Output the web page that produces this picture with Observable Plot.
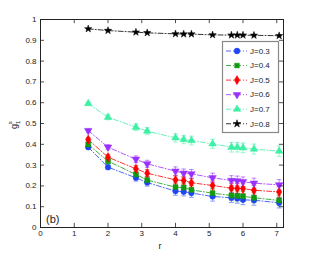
<!DOCTYPE html>
<html>
<head>
<meta charset="utf-8">
<script src="https://cdn.jsdelivr.net/npm/d3@7"></script>
<script src="https://cdn.jsdelivr.net/npm/@observablehq/plot@0.6"></script>
<style>
  body { margin: 0; background: #fff; }
  #chart { position: relative; width: 313px; height: 256px; }
</style>
</head>
<body>
<div id="chart"></div>
<script>
const rVals = [1.414, 2, 2.828, 3.162, 4, 4.243, 4.472, 5.099, 5.657, 5.831, 6, 6.325, 7.071];
const series = ["J=0.3", "J=0.4", "J=0.5", "J=0.6", "J=0.7", "J=0.8"];
const colors = ["#1f45f5", "#109a10", "#ff0000", "#9a30ff", "#3cf0a4", "#000000"];
const symbols = ["circle", "square", "diamond", "triangle", "triangle", "star"];
const rotations = [0, 0, 0, 180, 0, 0];

const g03 = [0.386, 0.290, 0.239, 0.216, 0.175, 0.172, 0.166, 0.149, 0.143, 0.140, 0.133, 0.131, 0.119];
const g04 = [0.399, 0.319, 0.255, 0.228, 0.194, 0.192, 0.181, 0.165, 0.154, 0.152, 0.150, 0.143, 0.130];
const g05 = [0.423, 0.338, 0.282, 0.261, 0.229, 0.226, 0.215, 0.202, 0.189, 0.188, 0.187, 0.179, 0.171];
const g06 = [0.466, 0.386, 0.328, 0.306, 0.271, 0.261, 0.258, 0.239, 0.226, 0.224, 0.220, 0.213, 0.205];
const g07 = [0.596, 0.530, 0.482, 0.463, 0.431, 0.423, 0.418, 0.402, 0.386, 0.386, 0.383, 0.377, 0.367];
const g08 = [0.955, 0.947, 0.939, 0.936, 0.931, 0.930, 0.930, 0.926, 0.925, 0.925, 0.925, 0.924, 0.922];
const errMain = [0.008, 0.012, 0.016, 0.017, 0.020, 0.020, 0.021, 0.022, 0.023, 0.023, 0.023, 0.024, 0.025];
const errJ08 = [0.003, 0.003, 0.003, 0.003, 0.003, 0.003, 0.003, 0.003, 0.003, 0.003, 0.003, 0.003, 0.003];

const xTicks = [0, 1, 2, 3, 4, 5, 6, 7];
const yTicks = [0, 0.1, 0.2, 0.3, 0.4, 0.5, 0.6, 0.7, 0.8, 0.9, 1];

const values = [g03, g04, g05, g06, g07, g08];
const errs = [errMain, errMain, errMain, errMain, errMain, errJ08];
const data = [];
series.forEach((s, i) => {
  rVals.forEach((r, k) => {
    data.push({J: s, r, g: values[i][k], e: errs[i][k], rot: rotations[i]});
  });
});
const dataMarkers = data.filter(d => d.J !== "J=0.8");
const dataStars = data.filter(d => d.J === "J=0.8");

const capHalf = 0.07;

const plot = Plot.plot({
  width: 313,
  height: 256,
  marginLeft: 40,
  marginRight: 30,
  marginTop: 19,
  marginBottom: 29,
  style: {fontFamily: "Liberation Sans, Arial, sans-serif", fontSize: "8px", background: "#fff", color: "#222"},
  x: {domain: [0, 7.2], label: null},
  y: {domain: [0, 1], label: null},
  color: {domain: series, range: colors},
  symbol: {domain: series, range: symbols},
  marks: [
    Plot.line(data, {x: "r", y: "g", z: "J", stroke: "J", strokeWidth: 0.8, strokeDasharray: "5,2,1,2"}),
    Plot.ruleX(data, {x: "r", y1: d => d.g - d.e, y2: d => d.g + d.e, stroke: "J", strokeOpacity: 0.55, strokeWidth: 1}),
    Plot.link(data, {x1: d => d.r - capHalf, x2: d => d.r + capHalf, y1: d => d.g + d.e, y2: d => d.g + d.e, stroke: "J", strokeOpacity: 0.55, strokeWidth: 1}),
    Plot.link(data, {x1: d => d.r - capHalf, x2: d => d.r + capHalf, y1: d => d.g - d.e, y2: d => d.g - d.e, stroke: "J", strokeOpacity: 0.55, strokeWidth: 1}),
    Plot.dot(dataMarkers, {x: "r", y: "g", fill: "J", stroke: "J", symbol: "J", r: 2.8, rotate: "rot", strokeWidth: 0.5}),
    Plot.dot(dataStars, {x: "r", y: "g", fill: "J", stroke: "J", symbol: "J", r: 2.3, strokeWidth: 0.5}),
    // inward ticks on all four sides
    Plot.ruleX(xTicks, {x: d => d, y1: 0, y2: 0.02, stroke: "#222", strokeWidth: 0.8}),
    Plot.ruleX(xTicks, {x: d => d, y1: 1, y2: 0.98, stroke: "#222", strokeWidth: 0.8}),
    Plot.ruleY(yTicks, {y: d => d, x1: 0, x2: 0.12, stroke: "#222", strokeWidth: 0.8}),
    Plot.ruleY(yTicks, {y: d => d, x1: 7.2, x2: 7.08, stroke: "#222", strokeWidth: 0.8}),
    Plot.frame({stroke: "#222", strokeWidth: 1}),
    Plot.axisX({ticks: xTicks, tickSize: 0, tickPadding: 3, label: null}),
    Plot.axisY({ticks: yTicks, tickSize: 0, tickPadding: 4, label: null, tickFormat: d => String(+d.toFixed(1))})
  ]
});

document.getElementById("chart").appendChild(plot);

const svg = d3.select(plot);

// axis titles
svg.append("text").attr("x", 160).attr("y", 249).attr("text-anchor", "middle")
  .style("font-size", "9px").text("r");
const yl = svg.append("text").attr("transform", "translate(17,123) rotate(-90)")
  .attr("text-anchor", "start").style("font-size", "9px");
yl.append("tspan").attr("x", -6).text("g");
yl.append("tspan").attr("dy", 2.5).style("font-size", "6px").text("1");
yl.append("tspan").attr("dx", -3.5).attr("dy", -7.5).style("font-size", "6px").text("s");

// panel label
svg.append("text").attr("x", 46).attr("y", 223).attr("text-anchor", "start")
  .style("font-size", "11px").text("(b)");

// legend
const lg = svg.append("g");
lg.append("rect").attr("x", 222.5).attr("y", 41.5).attr("width", 56).attr("height", 91)
  .attr("fill", "#fff").attr("stroke", "#888").attr("stroke-width", 1.2);
const symMap = {circle: d3.symbolCircle, square: d3.symbolSquare, diamond: d3.symbolDiamond, triangle: d3.symbolTriangle, star: d3.symbolStar};
const symSize = [26, 22, 24, 24, 24, 18];
series.forEach((s, i) => {
  const y = 51 + i * 14.55;
  lg.append("line").attr("x1", 226).attr("x2", 247).attr("y1", y).attr("y2", y)
    .attr("stroke", colors[i]).attr("stroke-width", 0.8).attr("stroke-dasharray", "5,2,1,2");
  lg.append("path").attr("d", d3.symbol(symMap[symbols[i]], symSize[i])())
    .attr("transform", `translate(237,${y}) rotate(${rotations[i]})`)
    .attr("fill", colors[i]).attr("stroke", colors[i]).attr("stroke-width", 0.5);
  lg.append("text").attr("x", 250).attr("y", y).attr("dy", "0.35em")
    .attr("text-anchor", "start").style("font-size", "8px").text(s);
});
</script>
</body>
</html>
